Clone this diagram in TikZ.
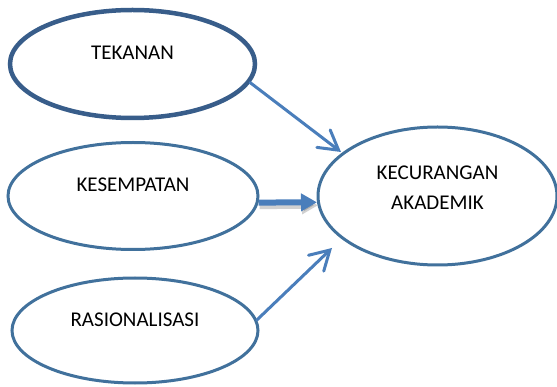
\documentclass[tikz,border=0pt]{standalone}
\usepackage{fontspec}
\setmainfont{Carlito}
\usetikzlibrary{shapes.geometric,arrows.meta}
\tikzstyle{canvas} = [x = 1pt, y = -1pt]
\definecolor{ovalColor}{RGB}{65,113,156}
\definecolor{ovalDarkColor}{RGB}{56,93,138}
\definecolor{arrowColor}{RGB}{74,126,187}
\tikzstyle{ovalStyle} = [ellipse, draw=ovalColor, line width=3pt, fill=white, inner sep=0pt]
\tikzstyle{ovalText} = [font=\fontsize{21}{30}\selectfont, text=black]
\tikzstyle{arrowStyle} = [draw=arrowColor, line width=3pt, line cap=round, -{Straight Barb[length=19pt, width=22pt, line cap=round]}]
\tikzstyle{thickArrowStyle} = [draw=arrowColor, line width=6pt, -{Triangle[length=16pt, width=17pt]}]
\tikzstyle{shadowStyle} = [draw=black, opacity=0.18, line width=7pt, -{Triangle[length=16pt, width=17pt]}]
\newcommand{\factorOval}[6]{\node [ovalStyle, minimum width=#4, minimum height=#5, label={[ovalText, yshift=#6]center:{#1}}] (#2) at #3 {};}

\begin{document}
\begin{tikzpicture}[canvas]
  \useasboundingbox (0,0) rectangle (557,387);

  % factors
  \node [ovalStyle, draw=ovalDarkColor, line width=4.5pt, minimum width=245pt, minimum height=108pt,
    label={[ovalText, yshift=11pt]center:TEKANAN}] (tekanan) at (132.5,64) {};
  \factorOval{KESEMPATAN}{kesempatan}{(133,196)}{250pt}{107pt}{11pt}
  \factorOval{RASIONALISASI}{rasionalisasi}{(135,330.5)}{246pt}{105pt}{11pt}
  \node [ovalStyle, minimum width=239pt, minimum height=138pt,
    label={[ovalText, align=center, yshift=8pt]center:{KECURANGAN\\AKADEMIK}}] (kecurangan) at (437.5,196) {};

  % arrows
  \coordinate (tekananEnd) at (341,152);
  \coordinate (rasionalisasiEnd) at (332,248);
  \draw [arrowStyle] (tekanan.-9) -- (tekananEnd);
  \draw [shadowStyle, transform canvas={shift={(1pt,-3pt)}}] (kesempatan.-3) -- (kecurangan.183);
  \draw [thickArrowStyle] (kesempatan.-3) -- (kecurangan.183);
  \draw [arrowStyle] (rasionalisasi.5) -- (rasionalisasiEnd);
\end{tikzpicture}
\end{document}
